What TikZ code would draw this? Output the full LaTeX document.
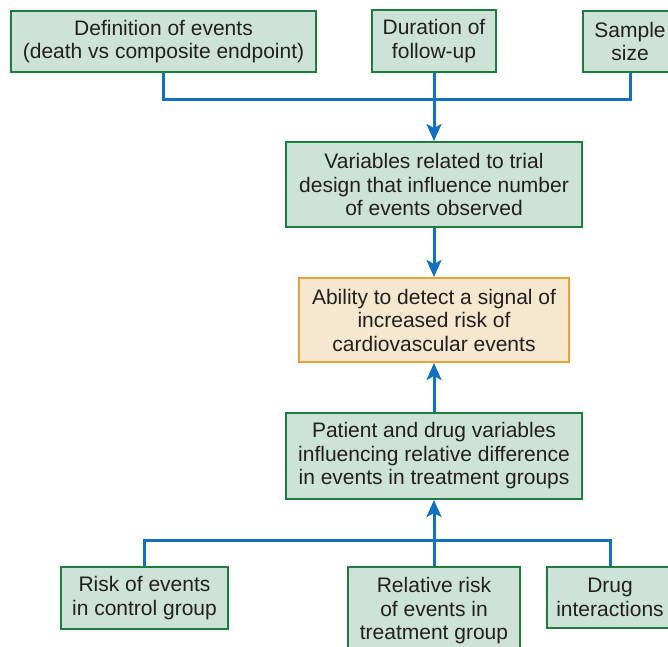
\documentclass[tikz,border=0pt]{standalone}
\usepackage{fontspec}
\setmainfont{Liberation Sans}
\usetikzlibrary{arrows.meta}
\definecolor{boxfill}{RGB}{205,227,216}
\definecolor{boxline}{RGB}{30,125,62}
\definecolor{keyfill}{RGB}{246,232,206}
\definecolor{keyline}{RGB}{227,163,58}
\definecolor{link}{RGB}{17,112,192}
\definecolor{ink}{RGB}{35,31,32}
\tikzset{
  factor/.style={draw=boxline, fill=boxfill, line width=2pt, inner sep=0pt,
    align=center, text=ink, font=\fontsize{21}{23.5}\selectfont},
  outcome/.style={factor, draw=keyline, fill=keyfill},
  link/.style={draw=link, line width=3pt},
  flow/.style={link, -{Stealth[length=17pt,width=15pt,inset=4pt]}},
}
\begin{document}
\begin{tikzpicture}[x=1pt,y=-1pt]
  \useasboundingbox (0,0) rectangle (668,646);
  \clip (0,0) rectangle (668,646);
  % trial design factors
  \node[factor, minimum width=305pt, minimum height=61pt] (def) at (163.5,41.5)
    {Definition of events\\(death vs composite endpoint)};
  \node[factor, minimum width=124pt, minimum height=62pt] (dur) at (434,41)
    {Duration of\\follow-up};
  \node[factor, minimum width=94pt, minimum height=61pt] (size) at (630,41.5)
    {Sample\\size};
  \node[factor, minimum width=296pt, minimum height=85pt] (design) at (434,184.5)
    {Variables related to trial\\design that influence number\\of events observed};
  % outcome
  \node[outcome, minimum width=270pt, minimum height=84pt] (signal) at (434,320)
    {Ability to detect a signal of\\increased risk of\\cardiovascular events};
  % patient and drug factors
  \node[factor, minimum width=296pt, minimum height=86pt] (patient) at (434,456)
    {Patient and drug variables\\influencing relative difference\\in events in treatment groups};
  \node[factor, minimum width=167pt, minimum height=62pt] (control) at (144.5,598)
    {Risk of events\\in control group};
  \node[factor, minimum width=172pt, minimum height=88pt] (relrisk) at (434,611)
    {Relative risk\\of events in\\treatment group};
  \node[factor, minimum width=126pt, minimum height=61pt] (drug) at (610,597.5)
    {Drug\\interactions};
  % junctions
  \coordinate (top) at (434,99);
  \coordinate (bottom) at (434,540);
  % connectors
  \draw[link] (def.south) |- (top) -| (size.south);
  \draw[flow] (dur.south) -- (design.north);
  \draw[flow] (design.south) -- (signal.north);
  \draw[flow] (patient.north) -- (signal.south);
  \draw[link] (control.north) |- (bottom) -| (drug.north);
  \draw[flow] (relrisk.north) -- (patient.south);
\end{tikzpicture}
\end{document}
